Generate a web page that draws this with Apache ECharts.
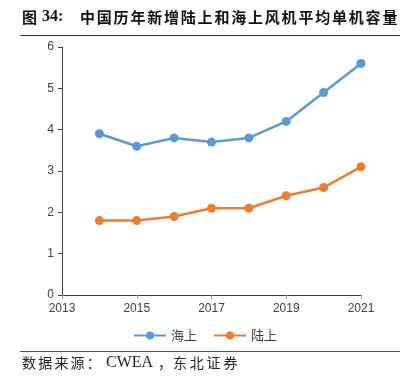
<!DOCTYPE html>
<html><head><meta charset="utf-8">
<script src="https://cdn.jsdelivr.net/npm/echarts@6/dist/echarts.min.js"></script>
<style>html,body{margin:0;padding:0;background:#fff}#c{width:410px;height:382px}</style>
</head><body><div id="c"></div>
<script>
const years = [2014, 2015, 2016, 2017, 2018, 2019, 2020, 2021];
const offshore = [3.9, 3.6, 3.8, 3.7, 3.8, 4.2, 4.9, 5.6];
const onshore = [1.8, 1.8, 1.9, 2.1, 2.1, 2.4, 2.6, 3.1];
const seriesNames = ['海上', '陆上'];
const titlePrefix = '图';
const titleNum = '34:';
const titleBody = '中国历年新增陆上和海上风机平均单机容量';
const sourceLead = '数据来源：';
const sourceOrg = 'CWEA';
const sourceComma = '，';
const sourceTail = '东北证券';

function spaced(str, x0, step, y, style) {
  return str.split('').map((ch, i) => ({
    type: 'text', x: x0 + i * step, y: y,
    style: Object.assign({text: ch}, style)
  }));
}
const titleStyle = {fontSize: 15, fontWeight: 'bold', fontFamily: 'Noto Sans CJK SC', fill: '#111', textVerticalAlign: 'middle'};
const srcStyle = {fontSize: 14, fontFamily: 'Noto Sans CJK SC', fill: '#222', textVerticalAlign: 'middle'};

const chart = echarts.init(document.getElementById('c'));
const pair = arr => years.map((y, i) => [y, arr[i]]);
chart.setOption({
  animation: false,
  grid: {left: 62, right: 49, top: 47, bottom: 87},
  xAxis: {
    type: 'value', min: 2013, max: 2021, interval: 2,
    axisLine: {show: true, lineStyle: {color: '#404040', width: 1}},
    axisTick: {show: true, length: 4, lineStyle: {color: '#a0a0a0'}},
    axisLabel: {color: '#404040', fontSize: 12, fontFamily: 'Liberation Sans, Arial', margin: 8, formatter: v => String(v)},
    splitLine: {show: false}
  },
  yAxis: {
    type: 'value', min: 0, max: 6, interval: 1,
    axisLine: {show: true, lineStyle: {color: '#404040', width: 1}},
    axisTick: {show: true, length: 4, lineStyle: {color: '#404040'}},
    axisLabel: {color: '#404040', fontSize: 12, fontFamily: 'Liberation Sans, Arial', margin: 8},
    splitLine: {show: false}
  },
  legend: {
    bottom: 35, left: 'center', itemGap: 16, itemWidth: 32, itemHeight: 10,
    textStyle: {color: '#404040', fontSize: 13, fontFamily: 'Noto Sans CJK SC'},
    data: seriesNames
  },
  series: [
    {name: seriesNames[0], type: 'line', data: pair(offshore), symbol: 'circle', symbolSize: 9,
     itemStyle: {color: '#5B9BD5'}, lineStyle: {color: '#5B9BD5', width: 2.5}},
    {name: seriesNames[1], type: 'line', data: pair(onshore), symbol: 'circle', symbolSize: 9,
     itemStyle: {color: '#ED7D31'}, lineStyle: {color: '#ED7D31', width: 2.5}}
  ],
  graphic: [].concat(
    [{type: 'text', x: 22, y: 17, style: Object.assign({text: titlePrefix}, titleStyle)},
     {type: 'text', x: 42, y: 17, style: Object.assign({text: titleNum}, titleStyle, {fontFamily: 'Liberation Serif', fontSize: 16})}],
    spaced(titleBody, 80, 16.8, 17, titleStyle),
    [{type: 'line', shape: {x1: 20, y1: 35.5, x2: 400, y2: 35.5}, style: {stroke: '#333', lineWidth: 1}},
     {type: 'line', shape: {x1: 20, y1: 351.5, x2: 400, y2: 351.5}, style: {stroke: '#555', lineWidth: 1}}],
    spaced(sourceLead, 22, 16.2, 363, srcStyle),
    [{type: 'text', x: 106, y: 363, style: Object.assign({text: sourceOrg}, srcStyle, {fontFamily: 'Liberation Serif', fontSize: 16})}],
    spaced(sourceComma, 158, 16, 363, srcStyle),
    spaced(sourceTail, 173, 16.8, 363, srcStyle)
  )
});
</script></body></html>
